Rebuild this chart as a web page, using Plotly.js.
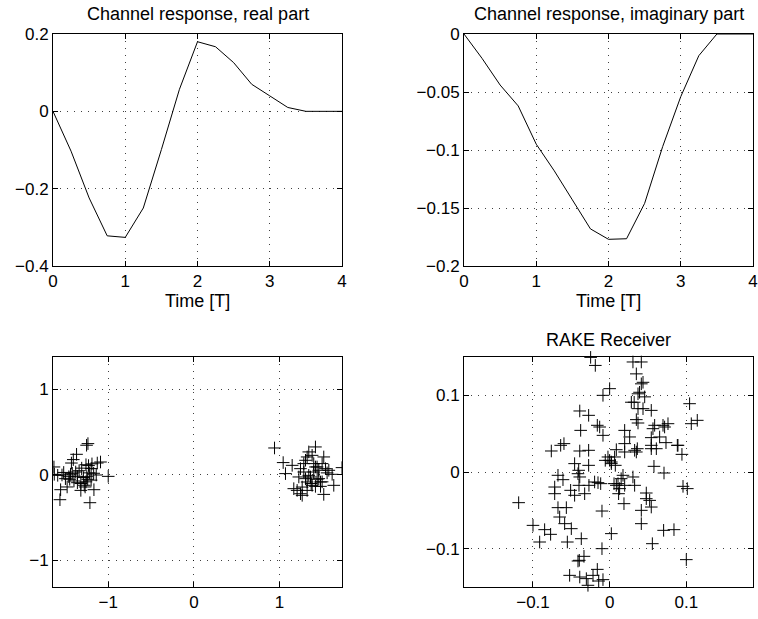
<!DOCTYPE html>
<html>
<head>
<meta charset="utf-8">
<script src="https://cdn.plot.ly/plotly-3.0.1.min.js"></script>
<style>html,body{margin:0;padding:0;background:#fff}#chart{width:758px;height:619px}</style>
</head>
<body>
<div id="chart"></div>
<script>
// ---- data ----
const timeT = [0, 0.25, 0.5, 0.75, 1, 1.25, 1.5, 1.75, 2, 2.25, 2.5, 2.75, 3, 3.25, 3.5, 3.75, 4];
const realPart = [0, -0.103, -0.224, -0.322, -0.326, -0.25, -0.099, 0.057, 0.18, 0.167, 0.126, 0.07, 0.04, 0.01, 0, 0, 0];
const imagPart = [0, -0.021, -0.044, -0.062, -0.095, -0.118, -0.143, -0.168, -0.177, -0.1765, -0.146, -0.097, -0.054, -0.0187, 0, 0, 0];

// received symbols before combining (two BPSK clusters)
const rxI = [
 -1.237, -1.253, -1.37, -1.408, -1.43, -1.634, -1.63, -1.59, -1.54, -1.556, -1.564, -1.48, -1.5, -1.46, -1.42,
 -1.38, -1.36, -1.32, -1.32, -1.28, -1.26, -1.24, -1.22, -1.2, -1.17, -1.14, -1.128, -1.09, -1.167, -1.214,
 -1.0, -1.2, -1.23, -1.26, -1.45, -1.34, -1.29, -1.25, -1.52, -1.4, -1.31, -1.19, -1.27, -1.36, -1.44,
 0.942, 1.043, 1.07, 1.148, 1.167, 1.206, 1.245, 1.265, 1.226, 1.245, 1.284, 1.304, 1.323, 1.342, 1.42,
 1.381, 1.4, 1.439, 1.459, 1.498, 1.517, 1.537, 1.576, 1.615, 1.634, 1.73, 1.517, 1.479, 1.42, 1.381,
 1.323, 1.304, 1.362, 1.284, 1.265, 1.323, 1.4, 1.459, 1.479, 1.342, 1.42, 1.556, 1.498, 1.44, 1.37
];
const rxQ = [
 0.367, 0.348, 0.242, 0.18, 0.14, 0.094, 0.008, -0.004, 0.0, -0.172, -0.289, -0.14, -0.043, -0.02, 0.02,
 0.035, -0.015, -0.1, -0.18, -0.12, -0.08, -0.05, 0.025, 0.075, 0.02, 0.0, 0.14, 0.152, -0.172, -0.324,
 -0.016, -0.06, 0.11, 0.12, -0.05, 0.05, -0.03, -0.02, 0.03, -0.07, 0.08, 0.13, -0.14, -0.09, 0.01,
 0.316, 0.145, 0.016, 0.113, -0.16, -0.18, -0.219, -0.238, -0.023, 0.074, 0.133, 0.172, 0.211, 0.27, 0.328,
 0.23, 0.133, 0.094, 0.055, 0.133, 0.211, 0.074, 0.055, 0.008, -0.121, 0.086, -0.227, -0.133, -0.133, -0.121,
 -0.082, -0.043, -0.023, 0.035, -0.141, -0.180, 0.035, -0.043, -0.082, -0.004, 0.094, 0.025, -0.08, -0.05, -0.1
];

// RAKE receiver output
const rakeI = [
 -0.0248, -0.0187, 0.0304, 0.0413, 0.0348, 0.0413, 0.0435, 0.039, 0.037, 0.0457, 0.0283, 0.032, 0.037, 0.0435, 0.0543,
 0, -0.0087, -0.039, -0.0274, -0.0161, -0.013, -0.0378, -0.0087, 0.0348, 0.037, 0.0565, 0.0587, 0.0696, 0.0761, 0.0717,
 0.1043, 0.1065, 0.1143, 0.0196, 0.0261, 0.0196, 0.0196, 0.0326, 0.0361, 0.0543, 0.0543, 0.0543, 0.0652, 0.0735, 0.0883,
 0.0943, 0.0578, 0.0709, -0.0639, -0.0761, -0.039, -0.0274, -0.0457, -0.0413, -0.0404, -0.039, -0.0274, -0.0057, -0.0022, 0.0022,
 0.0065, 0.0074, 0.0022, 0.0087, -0.0674, -0.0609, -0.0717, -0.0717, -0.0509, -0.0457, -0.04, -0.0326, -0.027, -0.0196, -0.0152,
 -0.0117, 0.0057, 0.0109, 0.0087, 0.013, 0.0117, 0.0174, 0.0196, 0.0304, 0.0326, 0.0187, 0.0478, 0.0522, 0.0543, 0.0413,
 0.0413, -0.01, -0.0674, -0.0565, -0.0652, -0.0587, -0.05, -0.1, -0.0848, -0.077, -0.0913, -0.0552, -0.037, 0.0022, -0.01,
 0.0704, 0.0839, 0.0557, 0.1, -0.0335, -0.0413, -0.0396, -0.0522, -0.039, -0.0161, -0.0217, -0.0304, -0.0283, -0.0143, -0.0087,
 -0.1187, 0.0957, 0.1013, 0.0891, -0.0596, 0.0, 0.0348, 0.0478, 0.0609, 0.0150
];
const rakeQ = [
 0.1495, 0.139, 0.1435, 0.1435, 0.128, 0.115, 0.117, 0.104, 0.102, 0.098, 0.091, 0.091, 0.0826, 0.0826, 0.0804,
 0.1087, 0.1, 0.0796, 0.0739, 0.0609, 0.0587, 0.0543, 0.0478, 0.0683, 0.0639, 0.0565, 0.0609, 0.0609, 0.063, 0.0587,
 0.0891, 0.063, 0.0674, 0.0543, 0.0457, 0.037, 0.0261, 0.0283, 0.0304, 0.0448, 0.0348, 0.0304, 0.0457, 0.0383, 0.0348,
 0.023, 0.0074, -0.0013, 0.0348, 0.0274, 0.0274, 0.0283, 0.0109, -0.0022, 0.0022, -0.0065, 0.0087, 0.0152, 0.0196, 0.013,
 0.0196, 0.0087, 0.0109, 0.0291, -0.0043, -0.01, -0.0196, -0.0283, -0.0239, -0.0304, -0.0174, -0.0283, -0.0174, -0.013, -0.0139,
 -0.0152, -0.0152, -0.0152, -0.0174, -0.0217, -0.0283, -0.0043, -0.0174, -0.0065, -0.0174, -0.0413, -0.0274, -0.037, -0.0457, -0.05,
 -0.0674, -0.0509, -0.0465, -0.0465, -0.0587, -0.0674, -0.0739, -0.0696, -0.0752, -0.0813, -0.0913, -0.0913, -0.087, -0.0804, -0.1,
 -0.0761, -0.0752, -0.0935, -0.1143, -0.11, -0.1161, -0.1152, -0.1348, -0.137, -0.127, -0.1348, -0.1391, -0.1478, -0.1422, -0.1404,
 -0.04, -0.0187, -0.0217, 0.0348, 0.037, 0.0152, 0.0261, -0.0348, 0.0304, -0.0087
];

const tickVals01 = [0, 1, 2, 3, 4];

// ---- styling ----
const FONT = {family: 'Liberation Sans, Arial, Helvetica, sans-serif', size: 17, color: '#000'};
const TFONT = {family: 'Liberation Sans, Arial, Helvetica, sans-serif', size: 18, color: '#000'};
const gridDash = '1px,6px';
function ax(domain, range, extra) {
  return Object.assign({
    domain: domain, range: range, autorange: false,
    showline: true, linecolor: '#000', linewidth: 1, mirror: 'ticks',
    ticks: 'inside', ticklen: 5, tickcolor: '#000', tickwidth: 1,
    showgrid: true, gridcolor: 'rgba(0,0,0,0.75)', gridwidth: 1, griddash: gridDash,
    zeroline: false, tickfont: FONT, fixedrange: true
  }, extra || {});
}

const W = 758, H = 619;
const xL = [53 / W, 342 / W], xR = [464 / W, 753 / W];
const yT = [(H - 266) / H, (H - 34) / H], yB = [(H - 587) / H, (H - 357) / H];

const lineStyle = {color: '#000', width: 1};
const plusMarker = {symbol: 'cross-thin', size: 9, color: '#000', line: {color: '#000', width: 1}};

const traces = [
  {x: timeT, y: realPart, type: 'scatter', mode: 'lines', line: lineStyle, xaxis: 'x', yaxis: 'y', hoverinfo: 'skip'},
  {x: timeT, y: imagPart, type: 'scatter', mode: 'lines', line: lineStyle, xaxis: 'x2', yaxis: 'y2', hoverinfo: 'skip'},
  {x: rxI, y: rxQ, type: 'scatter', mode: 'markers', marker: plusMarker, xaxis: 'x3', yaxis: 'y3', hoverinfo: 'skip', cliponaxis: true},
  {x: rakeI, y: rakeQ, type: 'scatter', mode: 'markers', marker: plusMarker, xaxis: 'x4', yaxis: 'y4', hoverinfo: 'skip', cliponaxis: false}
];

const layout = {
  width: W, height: H, margin: {l: 0, r: 0, t: 0, b: 0},
  paper_bgcolor: '#fff', plot_bgcolor: '#fff', showlegend: false, font: FONT,
  xaxis: ax(xL, [0, 4], {anchor: 'y', tickvals: tickVals01}),
  yaxis: ax(yT, [-0.4, 0.2], {anchor: 'x', tickvals: [-0.4, -0.2, 0, 0.2]}),
  xaxis2: ax(xR, [0, 4], {anchor: 'y2', tickvals: tickVals01}),
  yaxis2: ax(yT, [-0.2, 0], {anchor: 'x2', tickvals: [-0.2, -0.15, -0.1, -0.05, 0]}),
  xaxis3: ax(xL, [-1.645, 1.73], {anchor: 'y3', tickvals: [-1, 0, 1]}),
  yaxis3: ax(yB, [-1.31, 1.38], {anchor: 'x3', tickvals: [-1, 0, 1]}),
  xaxis4: ax(xR, [-0.19, 0.187], {anchor: 'y4', tickvals: [-0.1, 0, 0.1]}),
  yaxis4: ax(yB, [-0.15, 0.15], {anchor: 'x4', tickvals: [-0.1, 0, 0.1]}),
  annotations: [
    {text: 'Channel response, real part', x: (53 + 342) / 2 / W, y: 1 - 14 / H, xref: 'paper', yref: 'paper', showarrow: false, xanchor: 'center', yanchor: 'middle', font: TFONT},
    {text: 'Channel response, imaginary part', x: (464 + 753) / 2 / W, y: 1 - 14 / H, xref: 'paper', yref: 'paper', showarrow: false, xanchor: 'center', yanchor: 'middle', font: TFONT},
    {text: 'Time [T]', x: (53 + 342) / 2 / W, y: 1 - 301 / H, xref: 'paper', yref: 'paper', showarrow: false, xanchor: 'center', yanchor: 'middle', font: TFONT},
    {text: 'Time [T]', x: (464 + 753) / 2 / W, y: 1 - 301 / H, xref: 'paper', yref: 'paper', showarrow: false, xanchor: 'center', yanchor: 'middle', font: TFONT},
    {text: 'RAKE Receiver', x: (464 + 753) / 2 / W, y: 1 - 340 / H, xref: 'paper', yref: 'paper', showarrow: false, xanchor: 'center', yanchor: 'middle', font: TFONT}
  ]
};

Plotly.newPlot('chart', traces, layout, {staticPlot: true, displayModeBar: false});
</script>
</body>
</html>
